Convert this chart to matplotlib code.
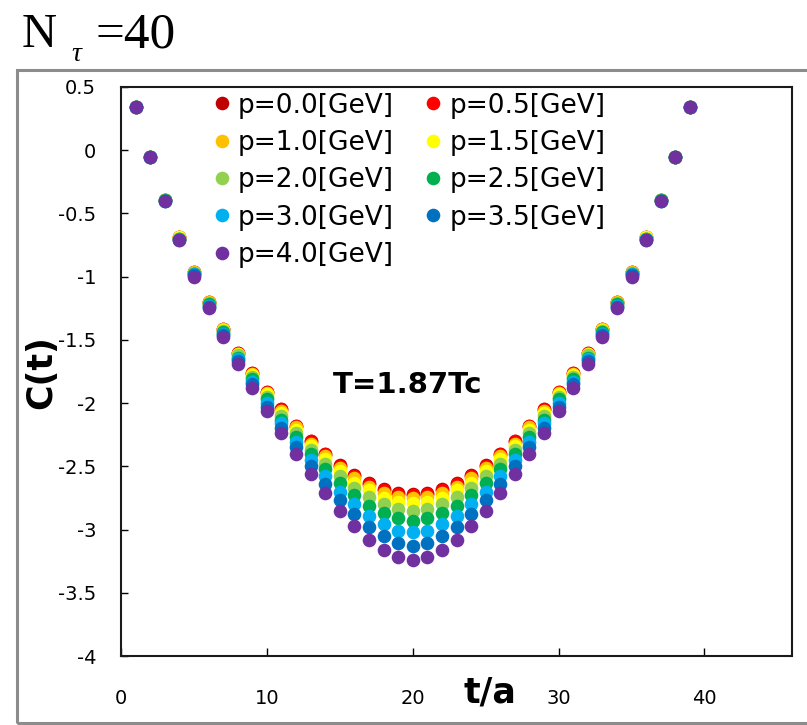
import matplotlib
matplotlib.use('Agg')
import matplotlib.pyplot as plt
from matplotlib import font_manager
from matplotlib.patches import Rectangle

names = {f.name for f in font_manager.fontManager.ttflist}
SERIF = 'Liberation Serif' if 'Liberation Serif' in names else 'DejaVu Serif'
SANS = 'DejaVu Sans'

# ---------------- data ----------------
t = list(range(1, 40))

labels = ['p=0.0[GeV]', 'p=0.5[GeV]', 'p=1.0[GeV]', 'p=1.5[GeV]', 'p=2.0[GeV]',
          'p=2.5[GeV]', 'p=3.0[GeV]', 'p=3.5[GeV]', 'p=4.0[GeV]']
colors = ['#C00000', '#FF0000', '#FFC000', '#FFFF00', '#92D050',
          '#00B050', '#00B0F0', '#0070C0', '#7030A0']

c_p00 = [0.34, -0.05, -0.39, -0.69, -0.96, -1.20, -1.41, -1.60, -1.76, -1.91,
         -2.05, -2.18, -2.30, -2.40, -2.49, -2.57, -2.63, -2.68, -2.71, -2.72,
         -2.71, -2.68, -2.63, -2.57, -2.49, -2.40, -2.30, -2.18, -2.05, -1.91,
         -1.76, -1.60, -1.41, -1.20, -0.96, -0.69, -0.39, -0.05, 0.34]
c_p05 = [0.34, -0.05, -0.39, -0.69, -0.96, -1.20, -1.41, -1.60, -1.76, -1.91,
         -2.05, -2.18, -2.30, -2.40, -2.50, -2.58, -2.64, -2.69, -2.72, -2.73,
         -2.72, -2.69, -2.64, -2.58, -2.50, -2.40, -2.30, -2.18, -2.05, -1.91,
         -1.76, -1.60, -1.41, -1.20, -0.96, -0.69, -0.39, -0.05, 0.34]
c_p10 = [0.34, -0.05, -0.39, -0.69, -0.96, -1.20, -1.41, -1.61, -1.77, -1.92,
         -2.06, -2.19, -2.32, -2.42, -2.51, -2.59, -2.66, -2.71, -2.74, -2.75,
         -2.74, -2.71, -2.66, -2.59, -2.51, -2.42, -2.32, -2.19, -2.06, -1.92,
         -1.77, -1.61, -1.41, -1.20, -0.96, -0.69, -0.39, -0.05, 0.34]
c_p15 = [0.34, -0.05, -0.39, -0.69, -0.97, -1.21, -1.42, -1.61, -1.78, -1.93,
         -2.08, -2.21, -2.34, -2.44, -2.54, -2.63, -2.69, -2.75, -2.78, -2.79,
         -2.78, -2.75, -2.69, -2.63, -2.54, -2.44, -2.34, -2.21, -2.08, -1.93,
         -1.78, -1.61, -1.42, -1.21, -0.97, -0.69, -0.39, -0.05, 0.34]
c_p20 = [0.34, -0.05, -0.39, -0.70, -0.97, -1.21, -1.43, -1.62, -1.79, -1.95,
         -2.10, -2.24, -2.37, -2.48, -2.58, -2.67, -2.74, -2.80, -2.84, -2.85,
         -2.84, -2.80, -2.74, -2.67, -2.58, -2.48, -2.37, -2.24, -2.10, -1.95,
         -1.79, -1.62, -1.43, -1.21, -0.97, -0.70, -0.39, -0.05, 0.34]
c_p25 = [0.34, -0.05, -0.39, -0.70, -0.98, -1.22, -1.44, -1.64, -1.81, -1.97,
         -2.13, -2.27, -2.40, -2.52, -2.63, -2.73, -2.81, -2.87, -2.91, -2.93,
         -2.91, -2.87, -2.81, -2.73, -2.63, -2.52, -2.40, -2.27, -2.13, -1.97,
         -1.81, -1.64, -1.44, -1.22, -0.98, -0.70, -0.39, -0.05, 0.34]
c_p30 = [0.34, -0.05, -0.40, -0.70, -0.98, -1.23, -1.45, -1.65, -1.83, -2.00,
         -2.16, -2.31, -2.45, -2.58, -2.70, -2.80, -2.89, -2.96, -3.01, -3.02,
         -3.01, -2.96, -2.89, -2.80, -2.70, -2.58, -2.45, -2.31, -2.16, -2.00,
         -1.83, -1.65, -1.45, -1.23, -0.98, -0.70, -0.40, -0.05, 0.34]
c_p35 = [0.34, -0.05, -0.40, -0.71, -0.99, -1.24, -1.46, -1.67, -1.85, -2.03,
         -2.20, -2.35, -2.50, -2.64, -2.77, -2.88, -2.98, -3.05, -3.11, -3.13,
         -3.11, -3.05, -2.98, -2.88, -2.77, -2.64, -2.50, -2.35, -2.20, -2.03,
         -1.85, -1.67, -1.46, -1.24, -0.99, -0.71, -0.40, -0.05, 0.34]
c_p40 = [0.34, -0.05, -0.40, -0.71, -1.00, -1.25, -1.48, -1.69, -1.88, -2.06,
         -2.24, -2.40, -2.56, -2.71, -2.85, -2.97, -3.08, -3.16, -3.22, -3.24,
         -3.22, -3.16, -3.08, -2.97, -2.85, -2.71, -2.56, -2.40, -2.24, -2.06,
         -1.88, -1.69, -1.48, -1.25, -1.00, -0.71, -0.40, -0.05, 0.34]

series = [c_p00, c_p05, c_p10, c_p15, c_p20, c_p25, c_p30, c_p35, c_p40]

xticks = [0, 10, 20, 30, 40]
xticklabels = ['0', '10', '20', '30', '40']
yticks = [-4, -3.5, -3, -2.5, -2, -1.5, -1, -0.5, 0, 0.5]
yticklabels = ['-4', '-3.5', '-3', '-2.5', '-2', '-1.5', '-1', '-0.5', '0', '0.5']

# ---------------- figure ----------------
W, H = 807, 725
fig = plt.figure(figsize=(W / 100, H / 100), dpi=100)
fig.patch.set_facecolor('white')

def fx(px):
    return px / W

def fy(py):
    return 1 - py / H

# outer grey frame
fig.add_artist(Rectangle((fx(17), fy(723)), fx(900), fy(70) - fy(723),
                         transform=fig.transFigure, fill=False,
                         edgecolor='#8c8c8c', linewidth=2.2, clip_on=False))

ax = fig.add_axes([fx(121), fy(656), fx(792) - fx(121), fy(87) - fy(656)])

handles = []
for vals, col, lab in zip(series, colors, labels):
    h, = ax.plot(t, vals, linestyle='none', marker='o', markersize=9.8,
                 markerfacecolor=col, markeredgewidth=0, label=lab, clip_on=False)
    handles.append(h)

ax.set_xlim(0, 46)
ax.set_ylim(-4, 0.5)
ax.set_xticks(xticks)
ax.set_xticklabels(xticklabels)
ax.set_yticks(yticks)
ax.set_yticklabels(yticklabels)
ax.tick_params(axis='x', direction='in', length=6, width=1, pad=24,
               labelsize=14, colors='black')
ax.tick_params(axis='y', direction='in', length=5, width=1, pad=18,
               labelsize=14, colors='black')
for lab in ax.get_xticklabels() + ax.get_yticklabels():
    lab.set_fontfamily(SANS)
for s in ax.spines.values():
    s.set_linewidth(1.5)
    s.set_color('#1a1a1a')
    s.set_zorder(5)

# axis labels
ax.set_xlabel('t/a', fontsize=25, fontweight='bold', fontfamily=SANS)
ax.xaxis.set_label_coords((490 - 121) / 671, (656 - 693) / 569)
ax.xaxis.label.set_va('center')
ax.set_ylabel('C(t)', fontsize=25, fontweight='bold', fontfamily=SANS)
ax.yaxis.set_label_coords((41 - 121) / 671, (656 - 372) / 569)
ax.yaxis.label.set_va('center')

# annotation
ax.text((408 - 121) / 671, (656 - 385) / 569, 'T=1.87Tc', transform=ax.transAxes,
        ha='center', va='center', fontsize=21, fontweight='bold', fontfamily=SANS)

# legend: column-major order (5 in the first column, 4 in the second)
order = [0, 2, 4, 6, 8, 1, 3, 5, 7]
leg = ax.legend([handles[i] for i in order], [labels[i] for i in order],
                ncol=2, loc='upper left', bbox_to_anchor=(0.1426, 0.990),
                frameon=False, fontsize=19, numpoints=1, handlelength=0.4,
                handletextpad=0.4, columnspacing=1.3, labelspacing=0.43,
                borderpad=0, borderaxespad=0)
for txt in leg.get_texts():
    txt.set_fontfamily(SANS)

# title  N_tau = 40
fig.text(fx(22), fy(47), 'N', fontsize=35, fontfamily=SERIF, ha='left', va='baseline')
fig.text(fx(71), fy(61), 'τ', fontsize=20, fontfamily=SERIF, style='italic',
         ha='left', va='baseline')
fig.text(fx(96), fy(47), '=40', fontsize=37, fontfamily=SERIF, ha='left', va='baseline')

fig.savefig('out.png', dpi=100)
